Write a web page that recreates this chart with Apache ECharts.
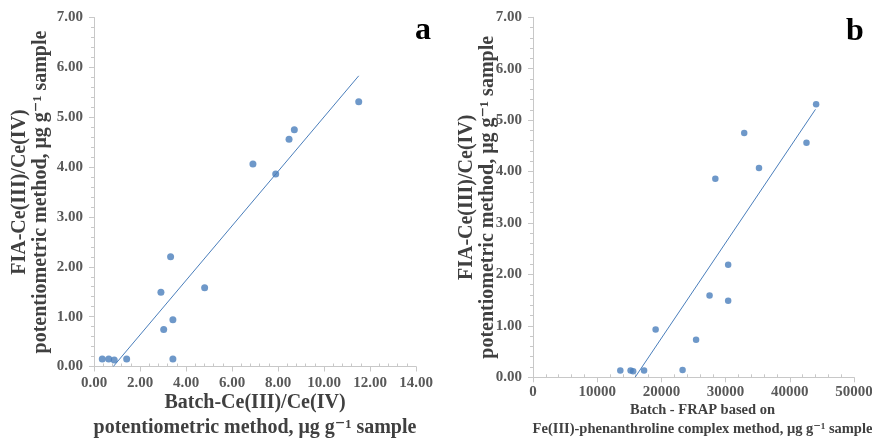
<!DOCTYPE html>
<html>
<head>
<meta charset="utf-8">
<script src="https://cdn.jsdelivr.net/npm/echarts@6/dist/echarts.min.js"></script>
<style>
  html, body { margin: 0; padding: 0; background: #fff; }
  #main { width: 872px; height: 440px; }
</style>
</head>
<body>
<div id="main"></div>
<script>
// ==================================================
// panel a : batch Ce(III)/Ce(IV) vs FIA
const batchCe = [0.36, 0.64, 0.88, 1.42, 2.91, 3.03, 3.33, 3.43, 3.43, 4.81, 6.91, 7.90, 8.48, 8.71, 11.51];
const fiaA    = [0.15, 0.15, 0.13, 0.15, 1.49, 0.74, 2.20, 0.94, 0.15, 1.58, 4.06, 3.86, 4.56, 4.75, 5.31];
// trend line ends
const trendAx = [0.84, 11.51];
const trendAy = [0.00, 5.83];

// ==================================================
// panel b : batch FRAP vs FIA
const batchFrap = [13600, 15200, 15600, 17300, 19100, 23300, 25400, 27500, 28400, 30400, 30400, 32900, 35200, 42600, 44100];
const fiaB      = [0.13, 0.13, 0.12, 0.13, 0.93, 0.14, 0.73, 1.59, 3.86, 2.19, 1.49, 4.75, 4.07, 4.56, 5.31];
const trendBx = [15900, 44000];
const trendBy = [0.00, 5.21];

const dotColor = '#4a7ebb';
const serif = '"Liberation Serif", "DejaVu Serif", serif';

function pairs(xs, ys) {
  return xs.map(function (x, i) { return [x, ys[i]]; });
}

function valAxis(opt) {
  var base = {
    type: 'value',
    splitLine: { show: false },
    axisLine: { show: true, lineStyle: { color: '#c8c8c8', width: 1 } },
    axisTick: { show: true, length: 5, lineStyle: { color: '#c8c8c8' } },
    minorTick: { show: true, splitNumber: 5, length: 3, lineStyle: { color: '#c8c8c8' } },
    nameLocation: 'middle',
    nameMoveOverlap: false
  };
  return Object.assign(base, opt);
}

function tickLabel(margin, fmt) {
  return { color: '#595959', fontFamily: serif, fontWeight: 'bold', fontSize: 15, margin: margin, formatter: fmt };
}
var two = function (v) { return v.toFixed(2); };
var plain = function (v) { return String(v); };

var chart = echarts.init(document.getElementById('main'), null, { renderer: 'canvas' });

var option = {
  animation: false,
  backgroundColor: '#fff',
  title: [
    { text: 'a', left: 410, top: 10, textStyle: { fontFamily: serif, fontWeight: 'bold', fontSize: 32, color: '#000' } },
    { text: 'b', left: 841, top: 11, textStyle: { fontFamily: serif, fontWeight: 'bold', fontSize: 32, color: '#000' } }
  ],
  grid: [
    { left: 94, top: 17.5, width: 322, height: 349, containLabel: false, outerBoundsMode: 'none' },
    { left: 533, top: 17.3, width: 321, height: 360, containLabel: false, outerBoundsMode: 'none' }
  ],
  xAxis: [
    valAxis({
      gridIndex: 0, min: 0, max: 14, interval: 2,
      minorTick: { show: true, splitNumber: 5, length: -3, lineStyle: { color: '#c8c8c8' } },
      axisLabel: tickLabel(9, two),
      name: 'Batch-Ce(III)/Ce(IV)\npotentiometric method, \u03bcg g\u207b\u00b9 sample',
      nameGap: 24,
      nameTextStyle: { color: '#404040', fontFamily: serif, fontWeight: 'bold', fontSize: 20, lineHeight: 25 }
    }),
    valAxis({
      gridIndex: 1, min: 0, max: 50000, interval: 10000,
      minorTick: { show: true, splitNumber: 5, length: -3, lineStyle: { color: '#c8c8c8' } },
      axisLabel: tickLabel(7, plain),
      name: 'Batch - FRAP based on\nFe(III)-phenanthroline complex method, \u03bcg g\u207b\u00b9 sample',
      nameGap: 23,
      nameTextStyle: { color: '#404040', fontFamily: serif, fontWeight: 'bold', fontSize: 14.5, lineHeight: 19, padding: [0, 0, 0, 18] }
    })
  ],
  yAxis: [
    valAxis({
      gridIndex: 0, min: 0, max: 7, interval: 1,
      axisLabel: tickLabel(11, two),
      name: 'FIA-Ce(III)/Ce(IV)\npotentiometric method, \u03bcg g\u207b\u00b9 sample',
      nameGap: 43,
      nameTextStyle: { color: '#404040', fontFamily: serif, fontWeight: 'bold', fontSize: 20, lineHeight: 21 }
    }),
    valAxis({
      gridIndex: 1, min: 0, max: 7, interval: 1,
      axisLabel: tickLabel(11, two),
      name: 'FIA-Ce(III)/Ce(IV)\npotentiometric method, \u03bcg g\u207b\u00b9 sample',
      nameGap: 35,
      nameTextStyle: { color: '#404040', fontFamily: serif, fontWeight: 'bold', fontSize: 20, lineHeight: 21 }
    })
  ],
  series: [
    {
      type: 'scatter', xAxisIndex: 0, yAxisIndex: 0,
      data: pairs(batchCe, fiaA), symbolSize: 7,
      itemStyle: { color: dotColor }
    },
    {
      type: 'line', xAxisIndex: 0, yAxisIndex: 0,
      data: pairs(trendAx, trendAy), symbol: 'none',
      lineStyle: { color: dotColor, width: 1 }
    },
    {
      type: 'scatter', xAxisIndex: 1, yAxisIndex: 1,
      data: pairs(batchFrap, fiaB), symbolSize: 6.5,
      itemStyle: { color: dotColor }
    },
    {
      type: 'line', xAxisIndex: 1, yAxisIndex: 1,
      data: pairs(trendBx, trendBy), symbol: 'none',
      lineStyle: { color: dotColor, width: 1 }
    }
  ]
};

chart.setOption(option);
</script>
</body>
</html>
